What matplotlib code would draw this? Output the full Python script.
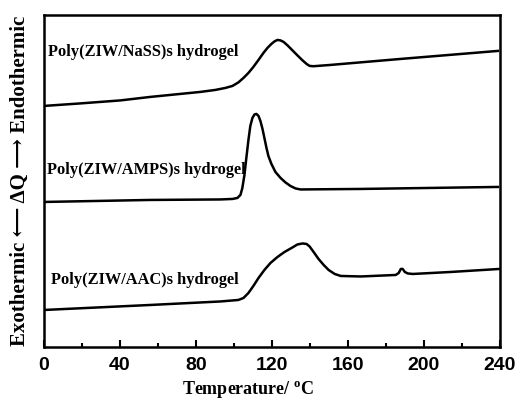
import matplotlib
matplotlib.use('Agg')
import matplotlib.pyplot as plt
from matplotlib.ticker import MultipleLocator

# DSC traces (temperature in degC, heat flow in arbitrary offset units)
nass_t = [0, 19.0, 40.1, 55.9, 71.7, 82.3, 90.2, 95.5, 99.2, 102.3, 105.0, 107.6, 110.2, 112.9,
          115.5, 117.6, 119.7, 121.3, 122.9, 124.5, 126.1, 128.2, 130.8, 133.4, 136.1, 138.2,
          139.8, 141.9, 150.8, 187.8, 238.9]
nass_q = [241, 243.5, 246.5, 250, 253, 255, 257, 259, 261, 264.5, 269, 274, 280, 287,
          294, 299, 303, 305.5, 307, 306.5, 305, 301.5, 296.5, 291.5, 286.5, 283,
          281, 280.7, 282, 288, 296]

amps_t = [0, 55.9, 92.8, 99.2, 101.8, 103.4, 104.4, 105.5, 106.5, 107.6, 108.6, 109.7, 110.8,
          111.8, 112.9, 113.9, 115.0, 116.0, 117.1, 118.1, 119.7, 121.8, 124.5, 127.1, 129.7,
          132.4, 135.0, 166.7, 238.9]
amps_q = [145, 147, 147.5, 148, 149, 152, 159, 172, 189, 207, 221, 229, 232.5,
          233, 231, 226, 218, 209, 199, 191, 183, 175, 169, 164.5, 161,
          158.5, 157.5, 158, 160]

aac_t = [0, 55.9, 92.8, 102.3, 105.0, 107.6, 110.2, 112.9, 116.0, 119.2, 122.9, 126.6, 130.3,
         133.4, 136.1, 138.2, 139.8, 141.9, 144.5, 147.2, 149.8, 153.0, 156.2, 166.7, 185.1,
         186.7, 187.8, 188.8, 189.9, 191.5, 194.1, 214.1, 239.5]
aac_q = [37, 42, 45.5, 47, 49, 54, 61, 69, 77, 84, 90, 95, 99,
         102.5, 103.5, 103, 100.5, 95, 88, 82, 77, 73, 71, 70.5, 72,
         74, 78, 78, 75, 73.5, 73, 75, 78]

labels = ['Poly(ZIW/NaSS)s hydrogel', 'Poly(ZIW/AMPS)s hydrogel', 'Poly(ZIW/AAC)s hydrogel']
label_pos = [(2.1, 295), (1.4, 177), (3.7, 67)]

serif = ['Liberation Serif', 'DejaVu Serif']

fig = plt.figure(figsize=(5.17, 4.03), dpi=100)
ax = fig.add_axes([0.0851, 0.139, 0.882, 0.824])

for t, q in [(nass_t, nass_q), (amps_t, amps_q), (aac_t, aac_q)]:
    ax.plot(t, q, color='black', lw=1.8, solid_joinstyle='round')

for txt, (x, y) in zip(labels, label_pos):
    ax.text(x, y, txt, family=serif, fontweight='bold', fontsize=11.8, va='center', ha='left')

ax.set_xlim(0, 240)
ax.set_ylim(0, 332)
ax.xaxis.set_major_locator(MultipleLocator(40))
ax.xaxis.set_minor_locator(MultipleLocator(20))
ax.tick_params(axis='x', which='major', direction='in', length=5, width=1.5,
               labelsize=14, pad=7)
ax.tick_params(axis='x', which='minor', direction='in', length=3, width=1.5)
ax.set_yticks([])
for lab in ax.get_xticklabels():
    lab.set_family(['Liberation Sans', 'DejaVu Sans'])
    lab.set_fontweight('bold')
for sp in ax.spines.values():
    sp.set_linewidth(1.8)

ax.set_xlabel('Temperature/ $^\\mathregular{o}$C', family=serif, fontweight='bold',
              fontsize=13)
ax.xaxis.set_label_coords(0.447, -0.1)
ax.set_ylabel('Exothermic \u27f5 \u0394Q \u27f6 Endothermic', family=serif,
              fontweight='bold', fontsize=15)
ax.yaxis.set_label_coords(-0.03, 0.5)

fig.savefig('out.png', dpi=100)
